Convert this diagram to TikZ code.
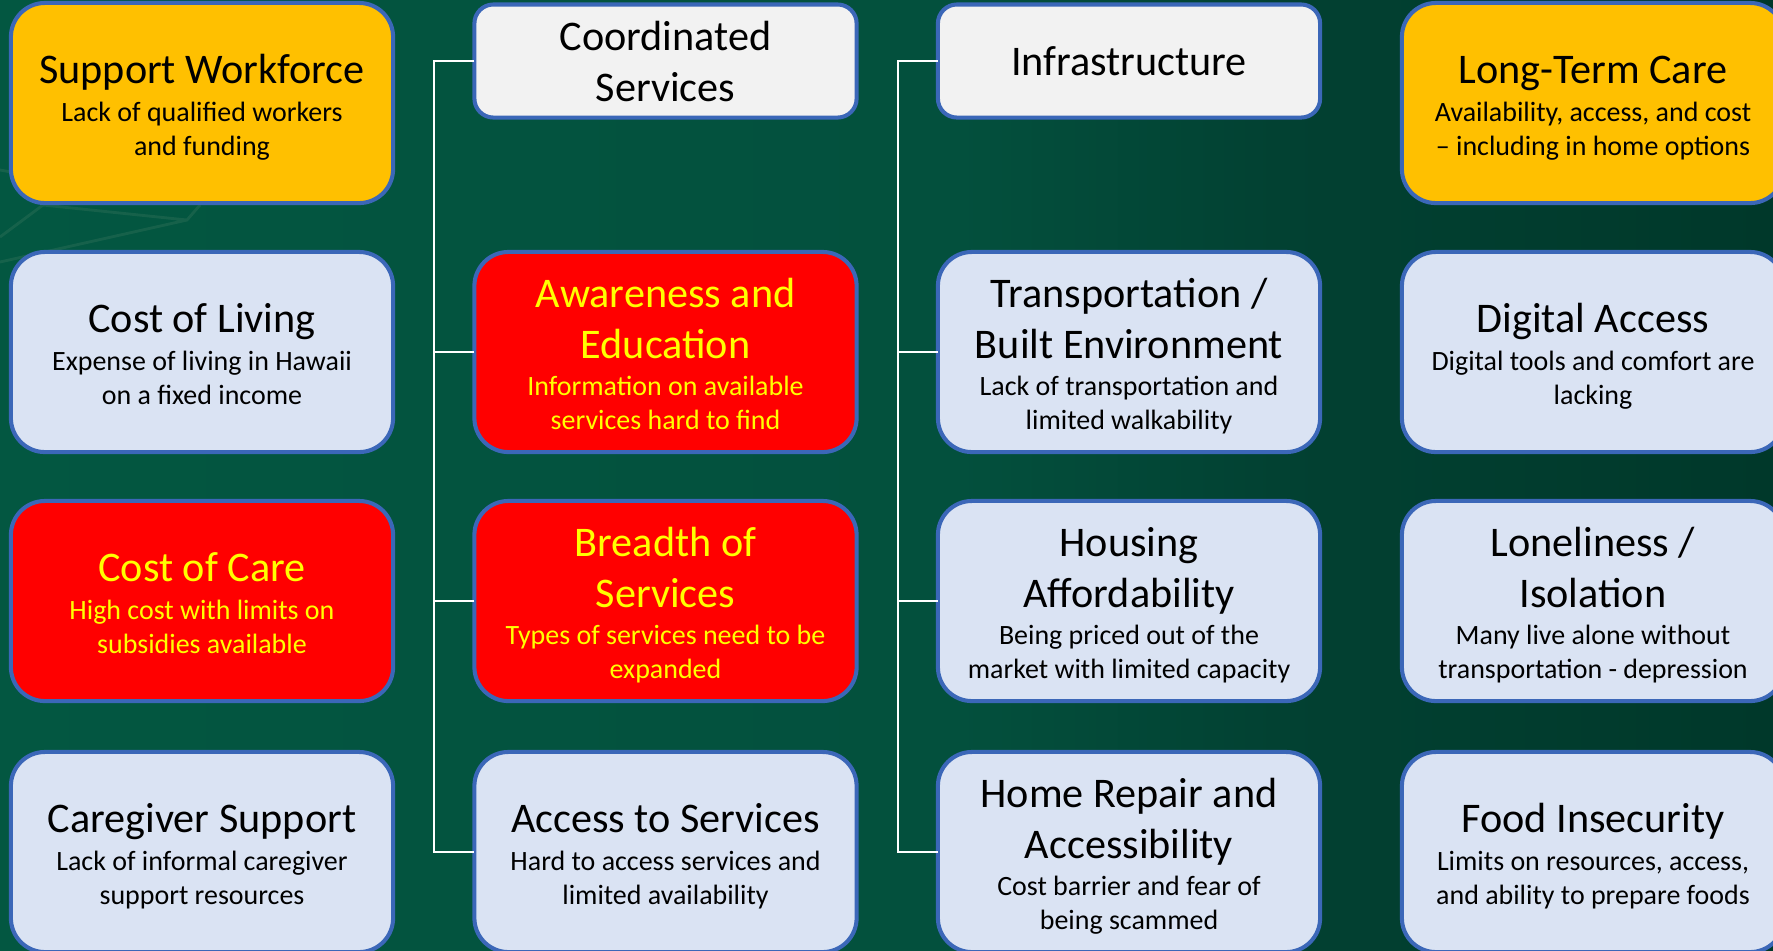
\documentclass[tikz,border=0pt]{standalone}
\usepackage{fontspec}
\setmainfont{Carlito}
\usetikzlibrary{calc, positioning}

\definecolor{bgleft}{RGB}{3,87,65}
\definecolor{bgmid}{RGB}{3,80,61}
\definecolor{bgdark}{RGB}{2,65,50}
\definecolor{bgright}{RGB}{0,56,42}
\definecolor{edge}{RGB}{59,103,184}
\definecolor{amber}{RGB}{255,192,0}
\definecolor{paleblue}{RGB}{218,227,243}
\definecolor{palegrey}{RGB}{242,242,242}
\definecolor{alarm}{RGB}{255,0,0}
\definecolor{alarmtext}{RGB}{255,255,0}
\definecolor{trace}{RGB}{60,120,95}

\pgfdeclarehorizontalshading{backdrop}{100bp}{
    color(0bp)=(bgleft); color(25bp)=(bgleft); color(52bp)=(bgmid);
    color(61bp)=(bgdark); color(75bp)=(bgright); color(100bp)=(bgright)}

\newcommand{\headfont}{\fontsize{12}{14.5}\selectfont}
\newcommand{\notefont}{\fontsize{7.95}{9.7}\selectfont}
\newcommand{\issue}[2]{{\headfont\rule{0pt}{11.5pt}#1\par}\vspace{1pt}%
    {\notefont #2\rule[-2.2pt]{0pt}{0pt}\par}}

\tikzset{
    card/.style={draw=edge, line width=1.15pt, rounded corners=0.34cm,
        minimum width=3.82cm, minimum height=2cm, text width=3.7cm,
        align=flush center, inner sep=0pt, outer sep=0pt},
    amberbox/.style={card, fill=amber},
    bluebox/.style={card, fill=paleblue},
    redbox/.style={card, fill=alarm, text=alarmtext},
    headbox/.style={card, fill=palegrey, rounded corners=0.19cm,
        minimum height=1.13cm, font=\headfont},
    wire/.style={draw=white, line width=0.6pt},
}

\begin{document}
\begin{tikzpicture}[x=0.01cm, y=-0.01cm]
    \clip (0,0) rectangle (1773,950);

    % Background
    \shade[shading=backdrop] (0,0) rectangle (1773,950);
    \draw[trace, opacity=0.35, line width=0.8pt]
        (0,170) -- (45,178)
        (0,237) -- (43,205) -- (187,220) -- (200,205)
        (0,262) -- (187,220);

    % Column 1
    \node[amberbox] (workforce) at (202,103)
        {\issue{Support Workforce}{Lack of qualified workers\\and funding}};
    \node[bluebox] (living) at (202,352)
        {\issue{Cost of Living}{Expense of living in Hawaii\\on a fixed income}};
    \node[redbox] (carecost) at (202,601)
        {\issue{Cost of Care}{High cost with limits on\\subsidies available}};
    \node[bluebox] (caregiver) at (202,852)
        {\issue{Caregiver Support}{Lack of informal caregiver\\support resources}};

    % Column 2
    \node[headbox] (coord) at (665.5,61) {Coordinated\\Services};
    \node[redbox] (aware) at (665.5,352)
        {\issue{Awareness and\\Education}{Information on available\\services hard to find}};
    \node[redbox] (breadth) at (665.5,601)
        {\issue{Breadth of\\Services}{Types of services need to be\\expanded}};
    \node[bluebox] (access) at (665.5,852)
        {\issue{Access to Services}{Hard to access services and\\limited availability}};

    % Column 3
    \node[headbox] (infra) at (1129,61) {Infrastructure};
    \node[bluebox] (transport) at (1129,352)
        {\issue{Transportation /\\Built Environment}{Lack of transportation and\\limited walkability}};
    \node[bluebox] (housing) at (1129,601)
        {\issue{Housing\\Affordability}{Being priced out of the\\market with limited capacity}};
    \node[bluebox] (repair) at (1129,852)
        {\issue{Home Repair and\\Accessibility}{Cost barrier and fear of\\being scammed}};

    % Column 4
    \node[amberbox] (ltc) at (1593,103)
        {\issue{Long-Term Care}{Availability, access, and cost\\– including in home options}};
    \node[bluebox] (digital) at (1593,352)
        {\issue{Digital Access}{Digital tools and comfort are\\lacking}};
    \node[bluebox] (lonely) at (1593,601)
        {\issue{Loneliness /\\Isolation}{Many live alone without\\transportation - depression}};
    \node[bluebox] (food) at (1593,852)
        {\issue{Food Insecurity}{Limits on resources, access,\\and ability to prepare foods}};

    % Tree connectors
    \coordinate (spineA) at ([xshift=-0.4cm]coord.west);
    \coordinate (spineB) at ([xshift=-0.4cm]infra.west);
    \draw[wire] (coord.west) -- (spineA) |- (access.west);
    \draw[wire] (infra.west) -- (spineB) |- (repair.west);
    \foreach \n in {aware, breadth}
        \draw[wire] (\n.west) -- (\n.west -| spineA);
    \foreach \n in {transport, housing}
        \draw[wire] (\n.west) -- (\n.west -| spineB);
\end{tikzpicture}
\end{document}
